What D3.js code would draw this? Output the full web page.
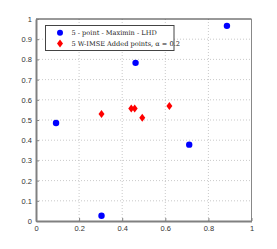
<!DOCTYPE html>
<html>
<head>
<meta charset="utf-8">
<script src="https://cdn.jsdelivr.net/npm/d3@7"></script>
<style>
  body { margin: 0; background: #fff; }
  svg { display: block; }
</style>
</head>
<body>
<svg id="chart"></svg>
<script>
// design points
const lhdX = [0.093, 0.304, 0.462, 0.711, 0.886];
const lhdY = [0.485, 0.026, 0.783, 0.378, 0.966];
// added points
const addX = [0.304, 0.442, 0.458, 0.493, 0.619];
const addY = [0.530, 0.557, 0.557, 0.511, 0.569];

const xTicks = [0, 0.2, 0.4, 0.6, 0.8, 1];
const yTicks = [0, 0.1, 0.2, 0.3, 0.4, 0.5, 0.6, 0.7, 0.8, 0.9, 1];
const legendLabels = ['5 - point - Maximin - LHD', '5 W-IMSE Added points, \u03b1 = 0.2'];

const width = 277, height = 249;
const mLeft = 36, mRight = 251.5, mTop = 19, mBottom = 221;

const svg = d3.select('#chart')
  .attr('width', width)
  .attr('height', height);

const x = d3.scaleLinear().domain([0, 1]).range([mLeft, mRight]);
const y = d3.scaleLinear().domain([0, 1]).range([mBottom, mTop]);

// grid
const grid = svg.append('g')
  .attr('stroke', '#bbb')
  .attr('stroke-width', 0.8)
  .attr('stroke-dasharray', '1,2');
grid.selectAll('.gx')
  .data(xTicks.slice(1, -1))
  .enter().append('line')
  .attr('x1', d => x(d)).attr('x2', d => x(d))
  .attr('y1', mTop).attr('y2', mBottom);
grid.selectAll('.gy')
  .data(yTicks.slice(1, -1))
  .enter().append('line')
  .attr('y1', d => y(d)).attr('y2', d => y(d))
  .attr('x1', mLeft).attr('x2', mRight);

// box
svg.append('line').attr('x1', mLeft).attr('x2', mRight).attr('y1', mTop).attr('y2', mTop)
  .attr('stroke', '#333').attr('stroke-width', 1);
svg.append('line').attr('x1', mRight).attr('x2', mRight).attr('y1', mTop).attr('y2', mBottom)
  .attr('stroke', '#888').attr('stroke-width', 1);

const xAxis = svg.append('g')
  .attr('transform', `translate(0,${mBottom})`)
  .call(d3.axisBottom(x).tickValues(xTicks).tickFormat(d3.format('')).tickSizeInner(-3).tickSizeOuter(0).tickPadding(5));
const yAxis = svg.append('g')
  .attr('transform', `translate(${mLeft},0)`)
  .call(d3.axisLeft(y).tickValues(yTicks).tickFormat(d3.format('')).tickSizeInner(-3).tickSizeOuter(0).tickPadding(4));

[xAxis, yAxis].forEach(a => {
  a.select('.domain').attr('stroke', '#808080').attr('stroke-width', 2);
  a.selectAll('.tick line').attr('stroke', '#808080');
  a.selectAll('.tick text')
    .attr('fill', '#333')
    .style('font-family', 'Liberation Sans, Arial, sans-serif')
    .style('font-size', '7.5px');
});

// points
svg.append('g').selectAll('circle')
  .data(lhdX)
  .enter().append('circle')
  .attr('cx', d => x(d))
  .attr('cy', (d, i) => y(lhdY[i]))
  .attr('r', 3.2)
  .attr('fill', '#0000ff');

const diamond = 'M0,-4 L3,0 L0,4 L-3,0 Z';
svg.append('g').selectAll('path')
  .data(addX)
  .enter().append('path')
  .attr('d', diamond)
  .attr('transform', (d, i) => `translate(${x(d)},${y(addY[i])})`)
  .attr('fill', '#ff0000');

// legend
const lg = svg.append('g');
lg.append('rect')
  .attr('x', 45.5).attr('y', 25.5)
  .attr('width', 128.5).attr('height', 25)
  .attr('fill', '#fff').attr('stroke', '#444').attr('stroke-width', 1);
lg.append('circle').attr('cx', 60).attr('cy', 32.7).attr('r', 3).attr('fill', '#0000ff');
lg.append('path').attr('d', diamond).attr('transform', 'translate(60,43.5)').attr('fill', '#ff0000');
lg.selectAll('text')
  .data(legendLabels)
  .enter().append('text')
  .attr('x', 71.5)
  .attr('y', (d, i) => 35.3 + i * 10.7)
  .attr('fill', '#222')
  .style('font-family', 'DejaVu Serif, Liberation Serif, serif')
  .style('font-size', '6.6px')
  .text(d => d);
</script>
</body>
</html>
